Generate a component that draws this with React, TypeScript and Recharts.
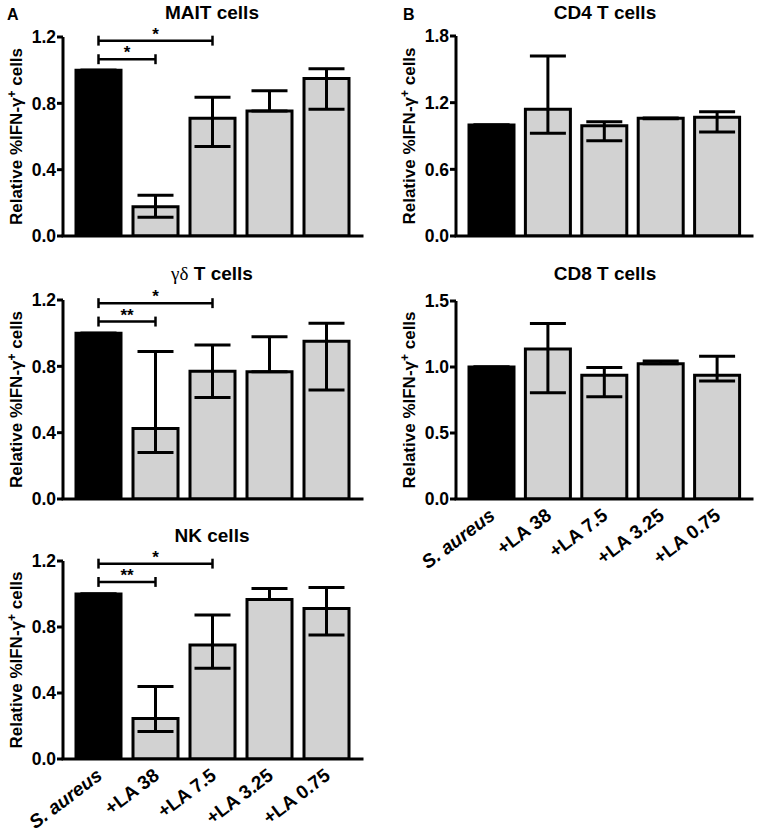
import React from 'react';
import { BarChart, Bar, XAxis, YAxis, ErrorBar, Cell, ReferenceLine } from 'recharts';

const categories = ['S. aureus', '+LA 38', '+LA 7.5', '+LA 3.25', '+LA 0.75'];

const maitMean = [1.0, 0.177, 0.71, 0.754, 0.949];
const maitUpper = [1.0, 0.245, 0.836, 0.876, 1.009];
const maitLower = [1.0, 0.113, 0.539, 0.754, 0.765];

const gdMean = [1.0, 0.425, 0.771, 0.767, 0.952];
const gdUpper = [1.0, 0.889, 0.928, 0.978, 1.06];
const gdLower = [1.0, 0.281, 0.612, 0.767, 0.657];

const nkMean = [1.0, 0.245, 0.691, 0.967, 0.912];
const nkUpper = [1.0, 0.439, 0.872, 1.033, 1.039];
const nkLower = [1.0, 0.167, 0.55, 0.967, 0.751];

const cd4Mean = [1.0, 1.14, 0.993, 1.059, 1.068];
const cd4Upper = [1.0, 1.62, 1.029, 1.063, 1.119];
const cd4Lower = [1.0, 0.924, 0.858, 1.055, 0.936];

const cd8Mean = [1.0, 1.137, 0.937, 1.024, 0.937];
const cd8Upper = [1.0, 1.329, 0.997, 1.045, 1.082];
const cd8Lower = [1.0, 0.805, 0.775, 1.024, 0.893];

const leftTicks = [0, 0.4, 0.8, 1.2];
const cd4Ticks = [0, 0.6, 1.2, 1.8];
const cd8Ticks = [0, 0.5, 1.0, 1.5];

const maitBrackets = [
  { from: 0, to: 2, y: 1.178, label: '*' },
  { from: 0, to: 1, y: 1.066, label: '*' },
];
const gdBrackets = [
  { from: 0, to: 2, y: 1.181, label: '*' },
  { from: 0, to: 1, y: 1.07, label: '**' },
];
const nkBrackets = [
  { from: 0, to: 2, y: 1.184, label: '*' },
  { from: 0, to: 1, y: 1.073, label: '**' },
];

const FONT = '"Liberation Sans", Arial, sans-serif';

function buildData(mean: number[], upper: number[], lower: number[]) {
  return categories.map((c, i) => ({
    name: c,
    value: mean[i],
    err: [Math.max(0, mean[i] - lower[i]), Math.max(0, upper[i] - mean[i])],
  }));
}

const XTick = (props: any) => {
  const { x, y, payload } = props;
  const italic = payload.value === 'S. aureus';
  const bx = x + 5;
  const by = y + 19;
  return (
    <text
      x={bx}
      y={by}
      transform={`rotate(-37 ${bx} ${by})`}
      textAnchor="end"
      fill="#000"
      fontSize={19}
      fontWeight="bold"
      fontStyle={italic ? 'italic' : 'normal'}
      fontFamily={FONT}
    >
      {payload.value}
    </text>
  );
};

const makeYLabel = (lx: number) => (props: any) => {
  const vb = props.viewBox || {};
  const cy = (vb.y || 0) + (vb.height || 0) / 2;
  return (
    <text
      x={lx}
      y={cy}
      transform={`rotate(-90 ${lx} ${cy})`}
      textAnchor="middle"
      fill="#000"
      fontSize={17}
      fontWeight="bold"
      fontFamily={FONT}
    >
      Relative %IFN-γ<tspan fontSize={12} dy={-6}>+</tspan>
      <tspan dy={6}> cells</tspan>
    </text>
  );
};

type PanelProps = {
  left: number;
  top: number;
  width: number;
  height: number;
  marginTop: number;
  marginRight: number;
  yWidth: number;
  xHeight: number;
  showX: boolean;
  ticks: number[];
  data: any[];
  brackets: { from: number; to: number; y: number; label: string }[];
  capHalf: number;
  labelX: number;
};

function Panel(p: PanelProps) {
  const domainMax = p.ticks[p.ticks.length - 1];
  const refs: any[] = [];
  p.brackets.forEach((b, bi) => {
    refs.push(
      <ReferenceLine
        key={`h${bi}`}
        segment={[
          { x: categories[b.from], y: b.y },
          { x: categories[b.to], y: b.y },
        ]}
        stroke="#000"
        strokeWidth={2.5}
        ifOverflow="visible"
        label={{
          value: b.label,
          position: 'top',
          offset: 1,
          fill: '#000',
          fontSize: 17,
          fontWeight: 'bold',
          fontFamily: FONT,
        }}
      />
    );
    [b.from, b.to].forEach((ci, k) => {
      refs.push(
        <ReferenceLine
          key={`c${bi}-${k}`}
          segment={[
            { x: categories[ci], y: b.y - p.capHalf },
            { x: categories[ci], y: b.y + p.capHalf },
          ]}
          stroke="#000"
          strokeWidth={2.5}
          ifOverflow="visible"
        />
      );
    });
  });
  return (
    <div style={{ position: 'absolute', left: p.left, top: p.top }}>
      <BarChart
        width={p.width}
        height={p.height}
        data={p.data}
        margin={{ top: p.marginTop, right: p.marginRight, left: 0, bottom: 0 }}
        barCategoryGap={0}
      >
        <XAxis
          dataKey="name"
          type="category"
          height={p.xHeight}
          padding={{ left: 7, right: 7 }}
          axisLine={{ stroke: '#000', strokeWidth: 3, strokeLinecap: 'square' }}
          tickLine={false}
          tickSize={0}
          tickMargin={0}
          interval={0}
          tick={p.showX ? <XTick /> : false}
        />
        <YAxis
          type="number"
          domain={[0, domainMax]}
          ticks={p.ticks}
          interval={0}
          width={p.yWidth}
          allowDataOverflow
          axisLine={{ stroke: '#000', strokeWidth: 3 }}
          tickLine={{ stroke: '#000', strokeWidth: 3 }}
          tickSize={6}
          tickMargin={1}
          tick={{ fill: '#000', fontSize: 17.5, fontWeight: 'bold', fontFamily: FONT }}
          tickFormatter={(v: number) => v.toFixed(1)}
          label={{ content: makeYLabel(p.labelX) } as any}
        />
        <Bar dataKey="value" barSize={45} stroke="#000" strokeWidth={3} isAnimationActive={false}>
          {p.data.map((_, i) => (
            <Cell key={i} fill={i === 0 ? '#000' : '#d2d2d2'} />
          ))}
          <ErrorBar dataKey="err" width={18} stroke="#000" strokeWidth={3} direction="y" />
        </Bar>
        {refs}
      </BarChart>
    </div>
  );
}

export default function App() {
  const titleStyle = { fontFamily: FONT, fontWeight: 'bold' as const, fontSize: 19, fill: '#000' };
  return (
    <div style={{ position: 'absolute', left: 0, top: 0, width: 758, height: 834, background: '#fff' }}>
      <Panel left={0} top={0} width={380} height={266} marginTop={37} marginRight={18} yWidth={63}
        xHeight={30} showX={false} ticks={leftTicks} data={buildData(maitMean, maitUpper, maitLower)}
        brackets={maitBrackets} capHalf={0.03} labelX={22} />
      <Panel left={0} top={264} width={380} height={265} marginTop={36} marginRight={18} yWidth={63}
        xHeight={30} showX={false} ticks={leftTicks} data={buildData(gdMean, gdUpper, gdLower)}
        brackets={gdBrackets} capHalf={0.03} labelX={22} />
      <Panel left={0} top={524} width={380} height={310} marginTop={37} marginRight={18} yWidth={63}
        xHeight={75} showX={true} ticks={leftTicks} data={buildData(nkMean, nkUpper, nkLower)}
        brackets={nkBrackets} capHalf={0.03} labelX={22} />
      <Panel left={380} top={0} width={378} height={266} marginTop={36} marginRight={6} yWidth={76}
        xHeight={30} showX={false} ticks={cd4Ticks} data={buildData(cd4Mean, cd4Upper, cd4Lower)}
        brackets={[]} capHalf={0.03} labelX={35} />
      <Panel left={380} top={264} width={378} height={310} marginTop={37} marginRight={6} yWidth={76}
        xHeight={75} showX={true} ticks={cd8Ticks} data={buildData(cd8Mean, cd8Upper, cd8Lower)}
        brackets={[]} capHalf={0.03} labelX={35} />
      <svg width={758} height={834} style={{ position: 'absolute', left: 0, top: 0, pointerEvents: 'none' }}>
        <text x={7} y={20} fontFamily={FONT} fontWeight="bold" fontSize={16} fill="#000">A</text>
        <text x={403} y={20} fontFamily={FONT} fontWeight="bold" fontSize={16} fill="#000">B</text>
        <text x={212} y={18.5} textAnchor="middle" {...titleStyle}>MAIT cells</text>
        <text x={212} y={280} textAnchor="middle" {...titleStyle}>
          <tspan fontFamily='"Liberation Serif", "DejaVu Serif", serif' fontWeight="normal">γδ</tspan> T cells
        </text>
        <text x={212} y={541.5} textAnchor="middle" {...titleStyle}>NK cells</text>
        <text x={605} y={18.5} textAnchor="middle" {...titleStyle}>CD4 T cells</text>
        <text x={605} y={280} textAnchor="middle" {...titleStyle}>CD8 T cells</text>
      </svg>
    </div>
  );
}
